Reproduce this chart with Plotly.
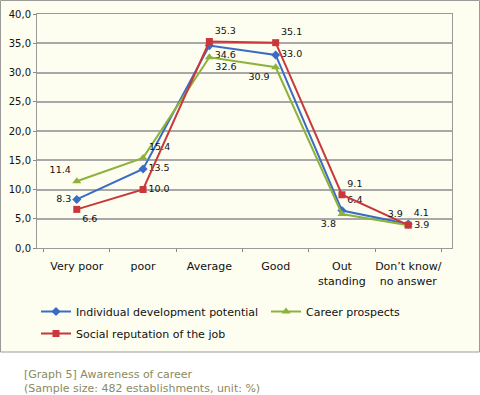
import plotly.graph_objects as go

categories = ["Very poor", "poor", "Average", "Good", "Out<br>standing", "Don’t know/<br>no answer"]
individual = [8.3, 13.5, 34.6, 33.0, 6.4, 4.1]
career = [11.4, 15.4, 32.6, 30.9, 5.8, 3.9]
social = [6.6, 10.0, 35.3, 35.1, 9.1, 3.9]
individual_labels = ["8.3", "13.5", "34.6", "33.0", "6.4", "4.1"]
career_labels = ["11.4", "15.4", "32.6", "30.9", "3.8", "3.9"]
social_labels = ["6.6", "10.0", "35.3", "35.1", "9.1", "3.9"]
y_ticks = [0, 5, 10, 15, 20, 25, 30, 35, 40]
y_tick_labels = ["0,0", "5,0", "10,0", "15,0", "20,0", "25,0", "30,0", "35,0", "40,0"]

BG = "#FDFDF0"
FONT = "DejaVu Sans"

fig = go.Figure()
fig.add_trace(go.Scatter(
    x=categories, y=individual, name="Individual development potential",
    mode="lines+markers+text", text=individual_labels, legend="legend", legendgroup="a",
    textposition=["middle left", "middle right", "bottom right", "middle right", "top right", "top right"],
    line=dict(color="#3A6CC6", width=2), marker=dict(symbol="diamond", size=7, color="#3A6CC6"),
    textfont=dict(size=9.5, color="#111111", family=FONT)))
fig.add_trace(go.Scatter(
    x=categories, y=career, name="Career prospects",
    mode="lines+markers+text", text=career_labels, legend="legend2", legendgroup="b",
    textposition=["top left", "top right", "bottom right", "bottom left", "bottom left", "middle right"],
    line=dict(color="#8DB23C", width=2), marker=dict(symbol="triangle-up", size=8, color="#8DB23C"),
    textfont=dict(size=9.5, color="#111111", family=FONT)))
fig.add_trace(go.Scatter(
    x=categories, y=social, name="Social reputation of the job",
    mode="lines+markers+text", text=social_labels, legend="legend", legendgroup="c",
    textposition=["bottom right", "middle right", "top right", "top right", "top right", "top left"],
    line=dict(color="#C9373B", width=2), marker=dict(symbol="square", size=7, color="#C9373B"),
    textfont=dict(size=9.5, color="#111111", family=FONT)))

L, R, T, B = 37, 28, 14, 147
W, H = 480, 395
pw, ph = W - L - R, H - T - B

def px_x(p):
    return (p - L) / pw

def px_y(p):
    return (H - B - p) / ph

fig.add_shape(type="rect", xref="paper", yref="paper",
              x0=px_x(0.5), x1=px_x(479.5), y0=px_y(352), y1=px_y(0.5),
              line=dict(color="#9A9A9A", width=1), fillcolor=BG, layer="below")

fig.add_annotation(xref="paper", yref="paper", x=px_x(22), y=px_y(375),
                   xanchor="left", yanchor="middle", showarrow=False, align="left",
                   text="[Graph 5] Awareness of career", font=dict(size=11, color="#8A8A60", family=FONT))
fig.add_annotation(xref="paper", yref="paper", x=px_x(22), y=px_y(388),
                   xanchor="left", yanchor="middle", showarrow=False, align="left",
                   text="(Sample size: 482 establishments, unit: %)", font=dict(size=11, color="#8A8A60", family=FONT))

legend_style = dict(orientation="v", xanchor="left", yanchor="top", tracegroupgap=3,
                    font=dict(size=11, family=FONT), bgcolor="rgba(0,0,0,0)", itemwidth=30)
fig.update_layout(
    width=W, height=H,
    margin=dict(l=L, r=R, t=T, b=B),
    paper_bgcolor="white", plot_bgcolor=BG,
    font=dict(family=FONT, size=10, color="#111111"),
    legend=dict(x=px_x(36), y=px_y(297), **legend_style),
    legend2=dict(x=px_x(266), y=px_y(297), **legend_style),
    showlegend=True,
)
fig.update_xaxes(type="category", range=[-0.6, 5.66], tickson="boundaries",
                 ticks="outside", ticklen=3, tickcolor="#888888", tickangle=0, automargin=False,
                 ticklabelstandoff=8,
                 showline=True, linecolor="#999999", linewidth=1, mirror=True,
                 showgrid=False, tickfont=dict(size=11, family=FONT))
fig.update_yaxes(range=[0, 40], tickvals=y_ticks, ticktext=y_tick_labels, automargin=False,
                 ticks="outside", ticklen=3, tickcolor="#888888",
                 showline=True, linecolor="#999999", linewidth=1, mirror=True,
                 showgrid=True, gridcolor="#A8A8A8", gridwidth=1.5,
                 zeroline=False, tickfont=dict(size=10, family=FONT))

fig.write_html("out.html", post_script="document.body.style.margin='0';",
               config={"displayModeBar": False})
